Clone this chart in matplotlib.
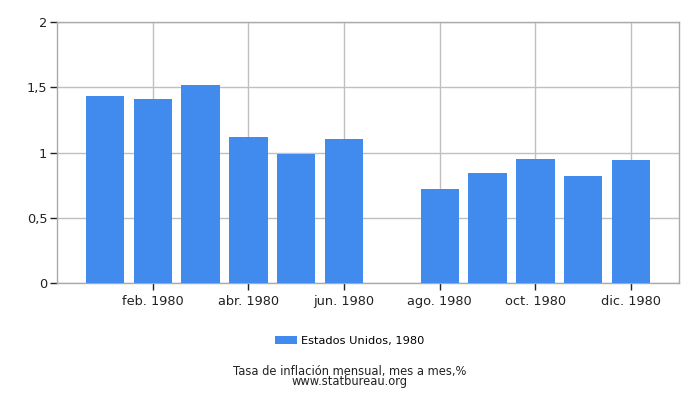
import matplotlib
matplotlib.use("Agg")
import matplotlib.pyplot as plt
import numpy as np

months = ["ene. 1980", "feb. 1980", "mar. 1980", "abr. 1980", "may. 1980", "jun. 1980",
          "jul. 1980", "ago. 1980", "sep. 1980", "oct. 1980", "nov. 1980", "dic. 1980"]
values = [1.43, 1.41, 1.52, 1.12, 0.99, 1.10, np.nan, 0.72, 0.84, 0.95, 0.82, 0.94]
yticks = [0, 0.5, 1, 1.5, 2]
ytick_labels = ["0", "0,5", "1", "1,5", "2"]
series_label = "Estados Unidos, 1980"
title = "Tasa de inflación mensual, mes a mes,%"
source = "www.statbureau.org"

plt.rcParams['font.family'] = ['DejaVu Sans']
fig = plt.figure(figsize=(7, 4), dpi=100)
ax = fig.add_axes([0.0814, 0.2925, 0.8886, 0.6525])

x = np.arange(len(months))
ax.bar(x, values, width=0.8, color="#418BEF", label=series_label, zorder=3)

ax.set_xlim(-1, 12)
ax.set_ylim(0, 2)
ax.set_yticks(yticks)
ax.set_yticklabels(ytick_labels)
xt = x[1::2]
ax.set_xticks(xt)
ax.set_xticklabels([months[i] for i in xt])

ax.grid(True, color="#c0c0c0", linewidth=1, zorder=0)
for s in ax.spines.values():
    s.set_color("#aaaaaa")
    s.set_linewidth(1)
ax.tick_params(axis='both', colors="#222222", labelsize=9.3, length=5, width=1)
ax.tick_params(axis='y', pad=2)

handles, labels = ax.get_legend_handles_labels()
fig.legend(handles, labels, loc='center', bbox_to_anchor=(0.5, 0.148), frameon=False,
           fontsize=8.2, handlelength=1.9, handleheight=0.8, handletextpad=0.4)
fig.text(0.5, 0.058, title + "\n" + source, ha='center', va='center', fontsize=8.3,
         color="#222222", linespacing=0.72)

fig.savefig("out.png", dpi=100)
